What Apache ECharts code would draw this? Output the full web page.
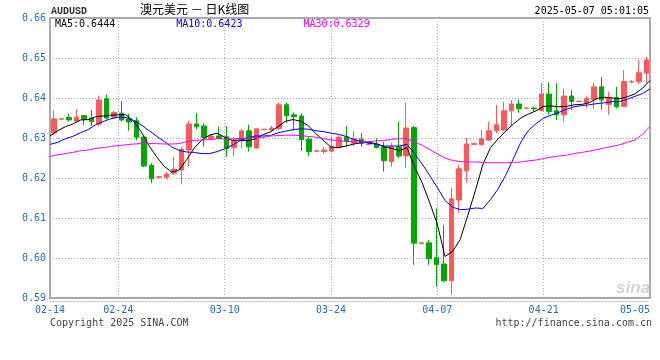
<!DOCTYPE html>
<html><head><meta charset="utf-8">
<script src="https://cdn.jsdelivr.net/npm/echarts@6/dist/echarts.min.js"></script>
<style>html,body{margin:0;padding:0;background:#fff}#c{width:660px;height:360px}</style>
</head><body><div id="c"></div>
<script>
// ---- categories (one per candle) ----
const dates = ['02-14','02-15','02-17','02-18','02-19','02-20','02-21','02-22','02-23','02-24',
 '02-25','02-26','02-27','02-28','03-01','03-02','03-03','03-04','03-05','03-06',
 '03-07','03-08','03-09','03-10','03-11','03-12','03-13','03-14','03-15','03-16',
 '03-17','03-18','03-19','03-20','03-21','03-22','03-23','03-24','03-25','03-26',
 '03-27','03-28','03-29','03-30','03-31','04-01','04-02','04-03','04-04','04-05',
 '04-06','04-07','04-08','04-09','04-10','04-11','04-12','04-13','04-14','04-15',
 '04-16','04-17','04-18','04-19','04-20','04-21','04-22','04-23','04-24','04-25',
 '04-26','04-27','04-28','04-29','04-30','05-01','05-02','05-03','05-04','05-05'];
// ---- candle values ----
const openV = [0.6313,0.6347,0.6351,0.6342,0.6356,0.6350,0.6335,0.6398,0.6352,0.6362,
 0.6348,0.6343,0.6302,0.6232,0.6202,0.6202,0.6212,0.6220,0.6270,0.6335,
 0.6330,0.6298,0.6305,0.6303,0.6276,0.6293,0.6318,0.6275,0.6321,0.6320,
 0.6324,0.6383,0.6358,0.6355,0.6297,0.6267,0.6266,0.6267,0.6277,0.6303,
 0.6287,0.6297,0.6284,0.6284,0.6278,0.6241,0.6278,0.6255,0.6326,0.6036,
 0.6038,0.6001,0.5985,0.5943,0.6145,0.6218,0.6284,0.6283,0.6295,0.6318,
 0.6320,0.6368,0.6385,0.6374,0.6375,0.6369,0.6410,0.6368,0.6358,0.6405,
 0.6391,0.6388,0.6396,0.6428,0.6384,0.6401,0.6379,0.6440,0.6441,0.6462];
const closeV = [0.6348,0.6348,0.6345,0.6352,0.6347,0.6341,0.6395,0.6350,0.6364,0.6345,
 0.6340,0.6302,0.6230,0.6198,0.6203,0.6210,0.6222,0.6272,0.6335,0.6328,
 0.6301,0.6305,0.6299,0.6274,0.6294,0.6318,0.6278,0.6323,0.6322,0.6325,
 0.6383,0.6356,0.6353,0.6296,0.6266,0.6268,0.6270,0.6278,0.6302,0.6291,
 0.6298,0.6287,0.6285,0.6276,0.6243,0.6278,0.6255,0.6325,0.6037,0.6038,
 0.5998,0.5984,0.5943,0.6148,0.6223,0.6285,0.6286,0.6298,0.6318,0.6333,
 0.6368,0.6385,0.6373,0.6375,0.6373,0.6410,0.6366,0.6358,0.6405,0.6391,
 0.6392,0.6399,0.6428,0.6395,0.6401,0.6378,0.6441,0.6441,0.6463,0.6495];
const lowV = [0.6308,0.6346,0.6341,0.6339,0.6332,0.6330,0.6330,0.6346,0.6349,0.6341,
 0.6318,0.6294,0.6227,0.6187,0.6200,0.6196,0.6207,0.6184,0.6230,0.6321,
 0.6278,0.6294,0.6297,0.6253,0.6255,0.6274,0.6266,0.6273,0.6320,0.6318,
 0.6320,0.6337,0.6318,0.6268,0.6255,0.6266,0.6262,0.6266,0.6274,0.6278,
 0.6280,0.6278,0.6283,0.6274,0.6216,0.6228,0.6250,0.6224,0.5983,0.6035,
 0.5983,0.5928,0.5940,0.5908,0.6113,0.6188,0.6284,0.6281,0.6293,0.6312,
 0.6318,0.6331,0.6363,0.6373,0.6366,0.6366,0.6358,0.6345,0.6341,0.6370,
 0.6390,0.6375,0.6373,0.6370,0.6358,0.6374,0.6378,0.6438,0.6435,0.6437];
const highV = [0.6368,0.6349,0.6360,0.6372,0.6357,0.6370,0.6406,0.6409,0.6368,0.6392,
 0.6360,0.6352,0.6305,0.6237,0.6205,0.6215,0.6252,0.6277,0.6343,0.6363,
 0.6337,0.6310,0.6328,0.6330,0.6302,0.6323,0.6333,0.6324,0.6323,0.6330,
 0.6389,0.6389,0.6364,0.6362,0.6305,0.6269,0.6278,0.6303,0.6307,0.6330,
 0.6318,0.6313,0.6287,0.6299,0.6290,0.6288,0.6341,0.6388,0.6330,0.6039,
 0.6045,0.6124,0.6083,0.6175,0.6233,0.6300,0.6286,0.6320,0.6341,0.6383,
 0.6391,0.6395,0.6395,0.6376,0.6378,0.6438,0.6439,0.6437,0.6424,0.6420,
 0.6393,0.6406,0.6437,0.6453,0.6416,0.6428,0.6470,0.6445,0.6495,0.6503];
// ---- moving averages ----
const ma5 = [0.6305,0.6318,0.6328,0.6335,0.6345,0.6346,0.6353,0.6355,0.6357,0.6358,
 0.6358,0.6342,0.6316,0.6282,0.6254,0.6230,0.6215,0.6220,0.6246,0.6275,
 0.6295,0.6307,0.6312,0.6302,0.6294,0.6295,0.6293,0.6298,0.6308,0.6315,
 0.6328,0.6342,0.6346,0.6342,0.6331,0.6311,0.6294,0.6277,0.6276,0.6280,
 0.6285,0.6288,0.6289,0.6286,0.6278,0.6274,0.6268,0.6276,0.6228,0.6188,
 0.6138,0.6085,0.6004,0.6016,0.6046,0.6106,0.6168,0.6234,0.6276,0.6298,
 0.6317,0.6335,0.6350,0.6360,0.6368,0.6379,0.6380,0.6378,0.6379,0.6383,
 0.6384,0.6388,0.6399,0.6402,0.6400,0.6398,0.6403,0.6410,0.6424,0.6444];
const ma10 = [0.6284,0.6289,0.6298,0.6304,0.6313,0.6321,0.6333,0.6341,0.6348,0.6352,
 0.6351,0.6344,0.6333,0.6319,0.6305,0.6292,0.6278,0.6269,0.6265,0.6264,
 0.6261,0.6261,0.6266,0.6273,0.6282,0.6293,0.6300,0.6305,0.6305,0.6306,
 0.6313,0.6317,0.6321,0.6323,0.6322,0.6318,0.6316,0.6312,0.6309,0.6304,
 0.6296,0.6291,0.6287,0.6284,0.6280,0.6280,0.6280,0.6284,0.6261,0.6235,
 0.6206,0.6176,0.6144,0.6127,0.6121,0.6122,0.6125,0.6124,0.6146,0.6173,
 0.6207,0.6248,0.6290,0.6319,0.6336,0.6350,0.6357,0.6364,0.6372,0.6378,
 0.6381,0.6383,0.6386,0.6388,0.6391,0.6391,0.6397,0.6404,0.6411,0.6423];
const ma30 = [0.6254,0.6258,0.6261,0.6264,0.6268,0.6270,0.6274,0.6276,0.6279,0.6281,
 0.6283,0.6285,0.6286,0.6286,0.6286,0.6285,0.6285,0.6286,0.6291,0.6294,
 0.6295,0.6296,0.6298,0.6298,0.6298,0.6299,0.6300,0.6301,0.6301,0.6305,
 0.6306,0.6307,0.6307,0.6306,0.6304,0.6302,0.6298,0.6295,0.6293,0.6292,
 0.6290,0.6290,0.6291,0.6293,0.6294,0.6297,0.6298,0.6298,0.6290,0.6282,
 0.6271,0.6260,0.6250,0.6244,0.6241,0.6240,0.6240,0.6239,0.6238,0.6238,
 0.6238,0.6239,0.6240,0.6243,0.6245,0.6249,0.6252,0.6255,0.6257,0.6261,
 0.6264,0.6267,0.6271,0.6275,0.6279,0.6283,0.6289,0.6295,0.6309,0.6329];
// ---- axis ticks / labels ----
const yMin = 0.59, yMax = 0.66, yStep = 0.01;
const xTickLabels = ['02-14','02-24','03-10','03-24','04-07','04-21','05-05'];
const legendNames = ['MA5','MA10','MA30'];
const legendValues = ['0.6444','0.6423','0.6329'];
const legendColors = ['#000000','#0000ff','#ff00ff'];

const candles = dates.map((d, i) => [openV[i], closeV[i], lowV[i], highV[i]]);
const mono = 'DejaVu Sans Mono';
const tickBlue = '#1c6fc6';
const dotted = {color: '#aaaaaa', width: 1, type: [1, 2]};

const chart = echarts.init(document.getElementById('c'), null, {renderer: 'canvas'});
chart.setOption({
  animation: false,
  backgroundColor: '#ffffff',
  title: [
    {text: 'AUDUSD', left: 51, top: 6, padding: 0,
     textStyle: {fontFamily: 'Liberation Mono', fontSize: 10, fontWeight: 'bold', color: '#333'}},
    {text: '澳元美元 － 日K线图', left: 140, top: 3, padding: 0,
     textStyle: {fontFamily: 'Noto Sans CJK SC', fontSize: 12, fontWeight: 'normal', color: '#000'}},
    {text: '2025-05-07 05:01:05', right: 11, top: 6, padding: 0,
     textStyle: {fontFamily: mono, fontSize: 10, fontWeight: 'normal', color: '#000'}},
    {text: 'Copyright 2025 SINA.COM', left: 50, top: 318, padding: 0,
     textStyle: {fontFamily: mono, fontSize: 10, fontWeight: 'normal', color: '#444'}},
    {text: 'http://finance.sina.com.cn', right: 8, top: 318, padding: 0,
     textStyle: {fontFamily: mono, fontSize: 10, fontWeight: 'normal', color: '#444'}}
  ],
  legend: {
    left: 49, top: 19, padding: 0, itemWidth: 0, itemHeight: 0, itemGap: 55,
    selectedMode: false,
    data: legendNames.map((n, i) => ({name: n, textStyle: {color: legendColors[i]}})),
    formatter: n => n + ':' + legendValues[legendNames.indexOf(n)],
    textStyle: {fontFamily: mono, fontSize: 10}
  },
  graphic: [
    {type: 'text', right: 10, top: 280, z: 0,
     style: {text: 'sina', fill: '#d4d4d4', font: 'italic bold 17px Liberation Sans'}}
  ],
  grid: {left: 50, right: 10, top: 18, bottom: 62, show: true,
         borderColor: '#aaaaaa', borderWidth: 2, backgroundColor: 'transparent'},
  xAxis: [
    {type: 'category', data: dates, boundaryGap: true, show: false},
    {type: 'category', data: dates, boundaryGap: false, position: 'bottom', offset: 3,
     axisLine: {show: true, lineStyle: dotted}, axisTick: {show: false},
     axisLabel: {interval: (i, v) => xTickLabels.includes(v), color: tickBlue,
                 fontFamily: mono, fontSize: 10, margin: 4,
                 alignMaxLabel: 'right'},
     splitLine: {show: true, interval: (i, v) => xTickLabels.includes(v) && i > 0 && i < dates.length - 1,
                 lineStyle: dotted}}
  ],
  yAxis: {
    type: 'value', min: yMin, max: yMax, interval: yStep, position: 'left',
    axisLine: {show: false}, axisTick: {show: false},
    axisLabel: {formatter: v => v.toFixed(2), color: tickBlue, fontFamily: mono, fontSize: 10, margin: 4},
    splitLine: {show: true, lineStyle: dotted}
  },
  series: [
    {type: 'candlestick', xAxisIndex: 0, yAxisIndex: 0, data: candles, barWidth: 5,
     itemStyle: {color: '#ff5858', color0: '#00a800', borderColor: '#ff5858',
                 borderColor0: '#00a800', borderWidth: 1}},
    {name: 'MA5', type: 'line', xAxisIndex: 1, data: ma5, symbol: 'none',
     lineStyle: {color: legendColors[0], width: 1}, itemStyle: {color: legendColors[0]}},
    {name: 'MA10', type: 'line', xAxisIndex: 1, data: ma10, symbol: 'none',
     lineStyle: {color: legendColors[1], width: 1}, itemStyle: {color: legendColors[1]}},
    {name: 'MA30', type: 'line', xAxisIndex: 1, data: ma30, symbol: 'none',
     lineStyle: {color: legendColors[2], width: 1}, itemStyle: {color: legendColors[2]}}
  ]
});
</script>
</body></html>
